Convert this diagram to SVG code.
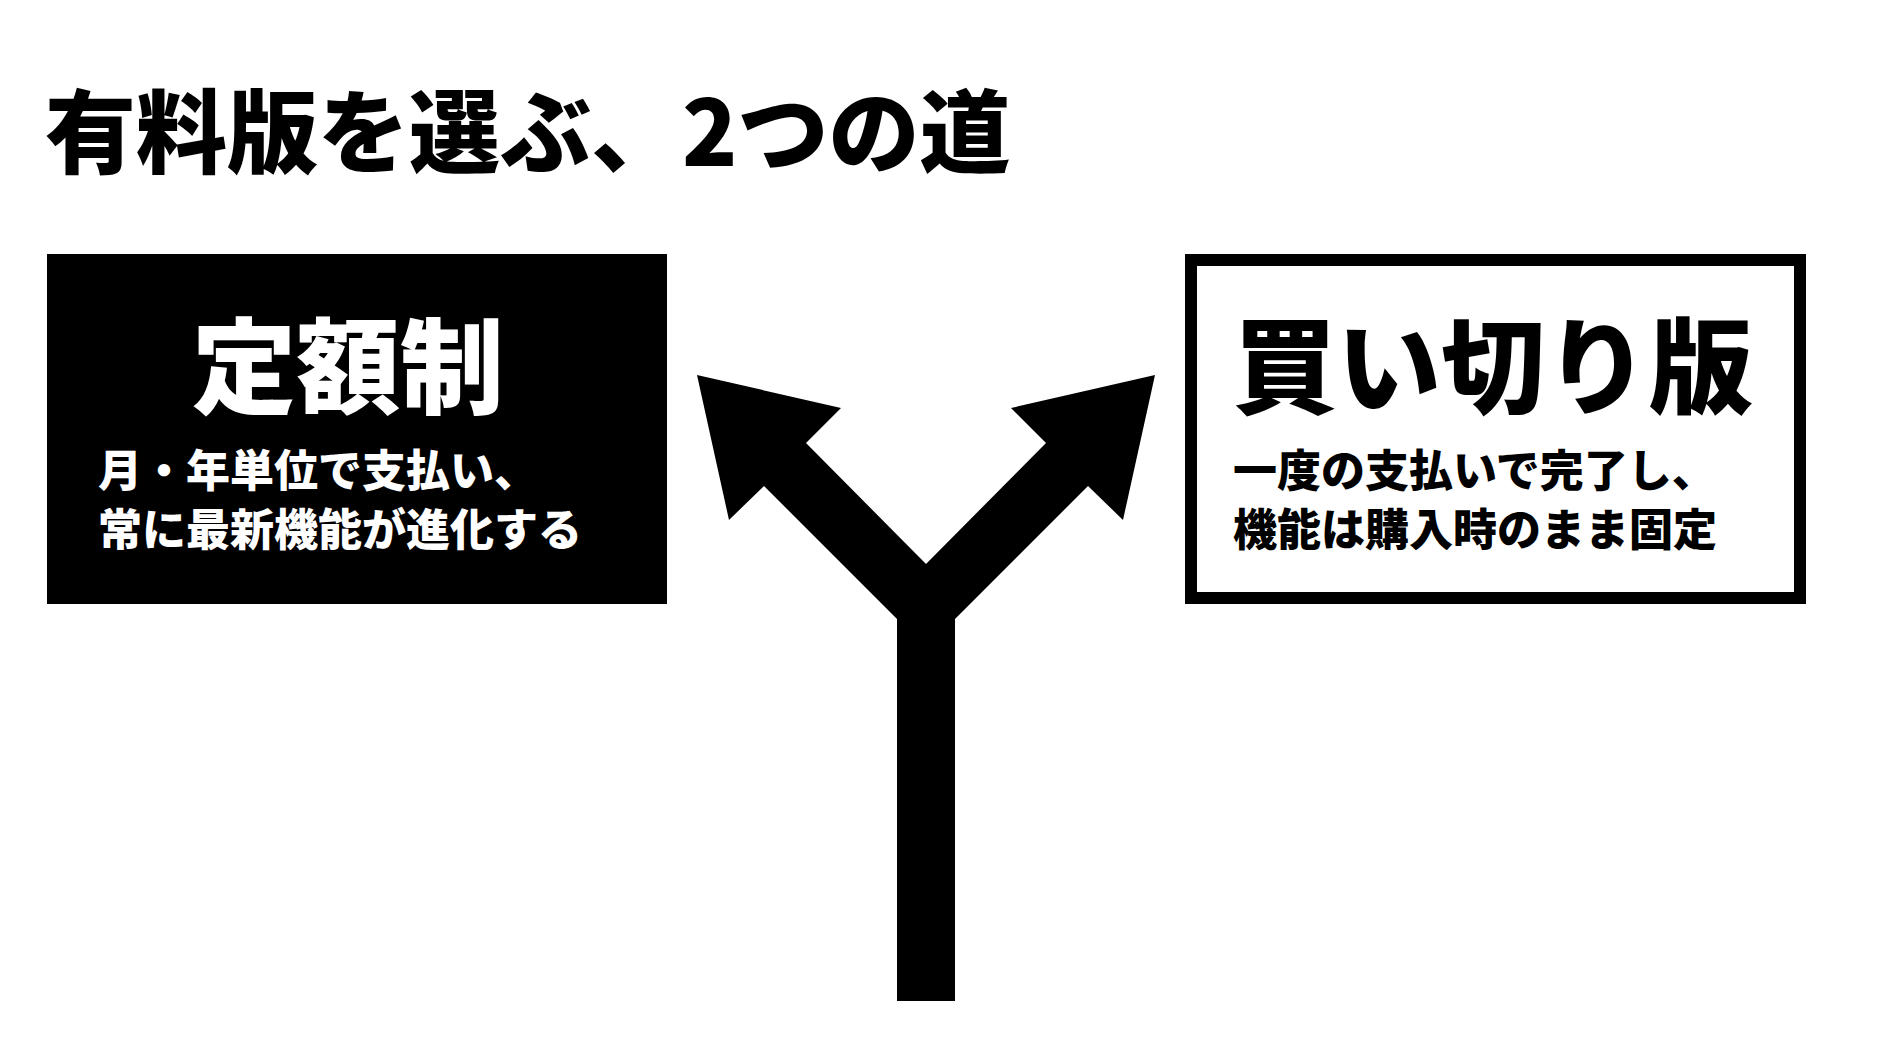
<svg xmlns="http://www.w3.org/2000/svg" width="1888" height="1038" viewBox="0 0 1888 1038">
<style>
text { font-family: "Noto Sans CJK JP", "Noto Sans CJK SC", "Noto Sans", sans-serif; font-weight: 900; }
.title { font-size: 91px; fill: #000; }
.head { font-size: 104px; }
.sub { font-size: 44px; }
.dark { fill: #000; }
.light { fill: #fff; }
</style>
<rect x="0" y="0" width="1888" height="1038" fill="#fff"/>
<g id="title">
<text class="title" x="45" y="166">有料版を選ぶ、2つの道</text>
</g>
<g id="node-subscription">
<rect x="47" y="254" width="620" height="350" fill="#000"/>
<text class="head light" x="192" y="406">定額制</text>
<text class="sub light" x="98" y="487">月・年単位で支払い、</text>
<text class="sub light" x="98" y="546">常に最新機能が進化する</text>
</g>
<g id="node-perpetual">
<rect x="1191" y="260" width="609" height="338" fill="#fff" stroke="#000" stroke-width="12"/>
<text class="head dark" x="1233" y="406">買い切り版</text>
<text class="sub dark" x="1233" y="487">一度の支払いで完了し、</text>
<text class="sub dark" x="1233" y="546">機能は購入時のまま固定</text>
</g>
<g id="connectors">
<polygon fill="#000" points="897,1001 897,619 764,486 729,520 697,375 841,408 806,443 926,564 1046,443 1011,408 1155,375 1123,520 1088,486 955,619 955,1001"/>
</g>
</svg>
